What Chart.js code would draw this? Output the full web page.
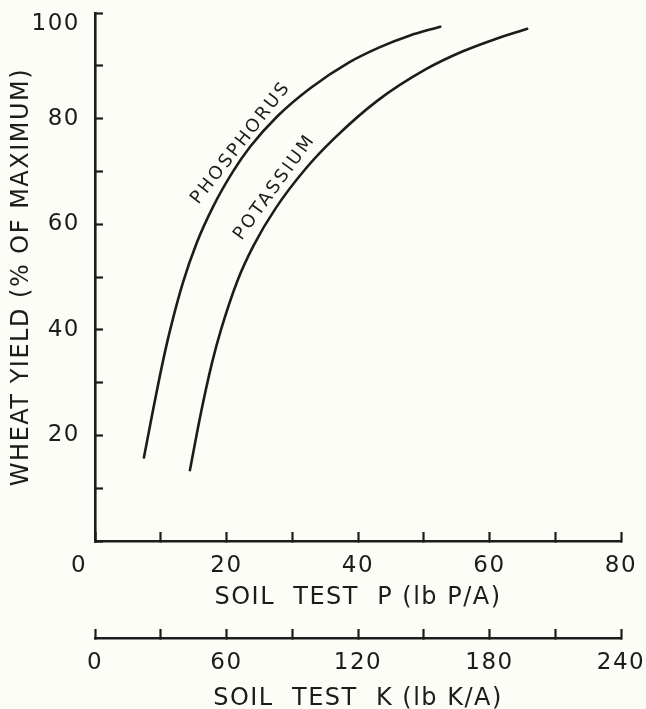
<!DOCTYPE html>
<html>
<head>
<meta charset="utf-8">
<script src="https://cdn.jsdelivr.net/npm/chart.js@4.4.0/dist/chart.umd.min.js"></script>
<style>
  html, body { margin: 0; padding: 0; background: #fdfdf8; }
  #wrap { width: 646px; height: 709px; position: relative; }
</style>
</head>
<body>
<div id="wrap"><canvas id="yield"></canvas></div>
<script>
// response curves
var phosphorusP = [7.44, 8.80, 10.24, 11.39, 13.36, 15.48, 17.91, 20.95, 23.68, 27.78, 32.79, 38.71, 43.26, 47.81, 52.52];
var phosphorusYield = [15.8, 24.6, 33.5, 39.8, 48.9, 56.5, 63.2, 69.9, 74.8, 80.5, 85.8, 90.7, 93.5, 95.7, 97.4];
var potassiumK = [43.3, 48.3, 53.3, 57.4, 65.1, 72.4, 82.4, 96.1, 109.3, 128.9, 151.2, 167.6, 182.2, 197.2];
var potassiumYield = [13.4, 24.2, 33.6, 39.9, 49.4, 56.0, 63.0, 70.5, 76.3, 83.4, 89.4, 92.7, 95.0, 97.0];

// tick labels that carry a number (the rest are bare tick marks)
var yTickLabels = [20, 40, 60, 80, 100];
var pTickLabels = [0, 20, 40, 60, 80];
var kTickLabels = [0, 60, 120, 180, 240];

var ink = "#1c1c1c";
var tickFont = { family: "DejaVu Sans", size: 23, lineHeight: 1 };
var titleFont = { family: "DejaVu Sans", size: 24, lineHeight: 1 };

function toPoints(xs, ys) {
  return xs.map(function (x, i) { return { x: x, y: ys[i] }; });
}

// keep the plot box where the figure has it
function noScalePadding(s) {
  s.paddingLeft = 0;
  s.paddingRight = 0;
  s.paddingTop = 0;
  s.paddingBottom = 0;
}

// letter spacing like the hand lettering
var spacing = {
  id: "spacing",
  beforeDraw: function (chart) {
    chart.ctx.letterSpacing = "1.5px";
  }
};

// curve names written along the curves
var curveLabels = {
  id: "curveLabels",
  afterDatasetsDraw: function (chart) {
    var ctx = chart.ctx;
    var items = [
      { text: "PHOSPHORUS", x: chart.scales.x.getPixelForValue(22.2), y: chart.scales.y.getPixelForValue(75.4), angle: -52 },
      { text: "POTASSIUM", x: chart.scales.xK.getPixelForValue(82), y: chart.scales.y.getPixelForValue(67), angle: -54 }
    ];
    ctx.save();
    ctx.fillStyle = ink;
    ctx.font = "18px 'DejaVu Sans'";
    ctx.letterSpacing = "2.5px";
    ctx.textAlign = "center";
    ctx.textBaseline = "middle";
    items.forEach(function (it) {
      ctx.save();
      ctx.translate(it.x, it.y);
      ctx.rotate(it.angle * Math.PI / 180);
      ctx.fillText(it.text, 0, 0);
      ctx.restore();
    });
    ctx.restore();
  }
};

var ctx = document.getElementById("yield").getContext("2d");
new Chart(ctx, {
  type: "scatter",
  data: {
    datasets: [{
      label: "Phosphorus",
      data: toPoints(phosphorusP, phosphorusYield),
      xAxisID: "x",
      yAxisID: "y"
    }, {
      label: "Potassium",
      data: toPoints(potassiumK, potassiumYield),
      xAxisID: "xK",
      yAxisID: "y"
    }]
  },
  options: {
    responsive: true,
    maintainAspectRatio: false,
    animation: false,
    layout: { padding: { top: 13, right: 25, left: 0, bottom: 0 } },
    elements: {
      point: { radius: 0 },
      line: { borderColor: ink, borderWidth: 2.6, cubicInterpolationMode: "monotone", borderCapStyle: "round" }
    },
    datasets: { scatter: { showLine: true } },
    plugins: {
      legend: { display: false },
      tooltip: { enabled: false }
    },
    scales: {
      x: {
        type: "linear",
        position: "bottom",
        min: 0,
        max: 80,
        afterFit: function (s) { s.height = 97; noScalePadding(s); },
        ticks: {
          stepSize: 10,
          padding: 23,
          maxRotation: 0,
          autoSkip: false,
          color: ink,
          font: tickFont,
          callback: function (v) {
            if (pTickLabels.indexOf(v) < 0) return "";
            // the origin 0 sits left of the corner in the figure
            return v === 0 ? "0\u2002\u2002\u2009" : String(v);
          }
        },
        grid: { drawOnChartArea: false, tickLength: -9, tickWidth: 2.2, tickColor: ink },
        border: { color: ink, width: 2.6 },
        title: {
          display: true,
          text: "SOIL  TEST  P (lb P/A)",
          color: ink,
          font: titleFont,
          padding: { top: 0, bottom: 28 }
        }
      },
      xK: {
        type: "linear",
        position: "bottom",
        min: 0,
        max: 240,
        afterFit: function (s) { s.height = 71; noScalePadding(s); },
        ticks: {
          stepSize: 30,
          padding: 23,
          maxRotation: 0,
          autoSkip: false,
          color: ink,
          font: tickFont,
          callback: function (v) {
            return kTickLabels.indexOf(v) < 0 ? "" : String(v);
          }
        },
        grid: { drawOnChartArea: false, tickLength: -9, tickWidth: 2.2, tickColor: ink },
        border: { color: ink, width: 2.6 },
        title: {
          display: true,
          text: "SOIL  TEST  K (lb K/A)",
          color: ink,
          font: { family: "DejaVu Sans", size: 24, lineHeight: 0.8 },
          padding: { top: 0, bottom: 1 }
        }
      },
      y: {
        type: "linear",
        position: "left",
        min: 0,
        max: 100,
        afterFit: function (s) { s.width = 95; noScalePadding(s); },
        ticks: {
          stepSize: 10,
          padding: 23,
          color: ink,
          font: tickFont,
          callback: function (v) {
            if (yTickLabels.indexOf(v) < 0) return "";
            // top label hangs just below its tick in the figure
            return v === 100 ? ["", "100"] : String(v);
          }
        },
        grid: { drawOnChartArea: false, tickLength: -8, tickWidth: 2.2, tickColor: ink },
        border: { color: ink, width: 2.6 },
        title: {
          display: true,
          text: "WHEAT YIELD (% OF MAXIMUM)",
          color: ink,
          font: { family: "DejaVu Sans", size: 24, lineHeight: 1 },
          padding: { top: 10, bottom: 0 }
        }
      }
    }
  },
  plugins: [spacing, curveLabels]
});
</script>
</body>
</html>
